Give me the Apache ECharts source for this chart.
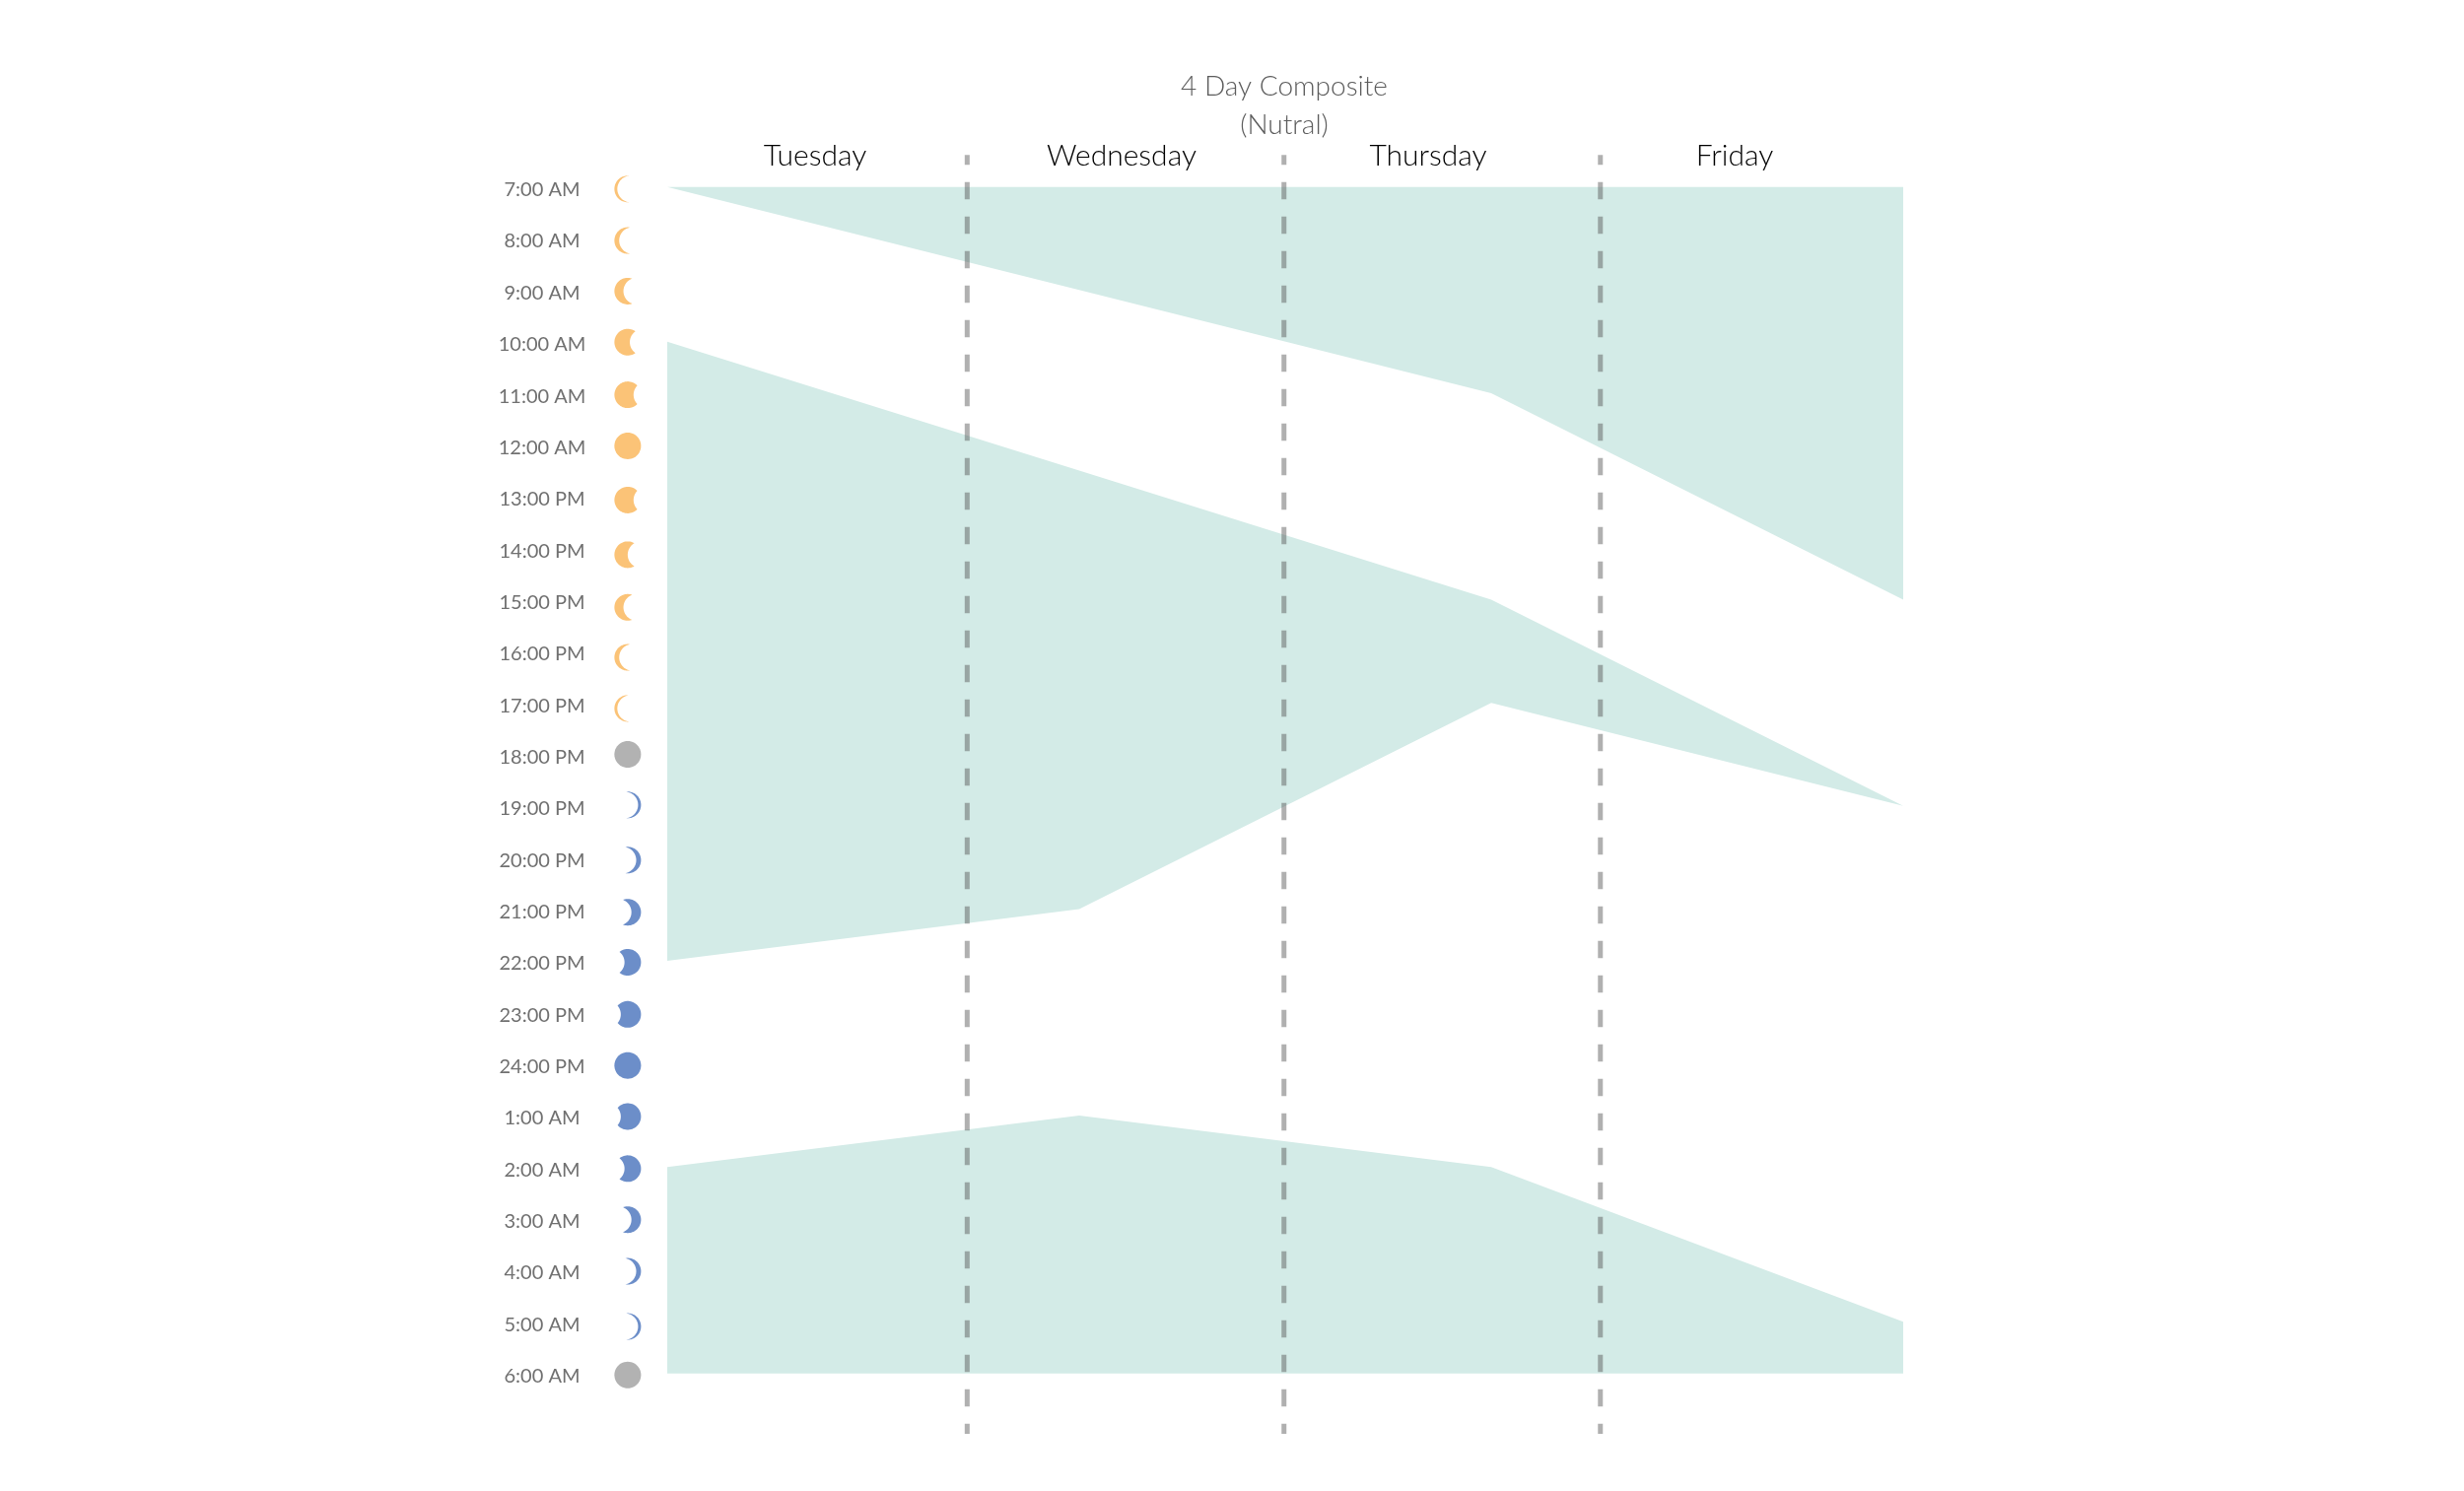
<!DOCTYPE html>
<html>
<head>
<meta charset="utf-8">
<style>html,body{margin:0;padding:0;background:#fff}#c{width:2500px;height:1513px}</style>
<script src="https://cdn.jsdelivr.net/npm/echarts@6/dist/echarts.min.js"></script>
</head>
<body>
<div id="c"></div>
<script>
const days = ['Tuesday', 'Wednesday', 'Thursday', 'Friday'];
const timeLabels = ['7:00 AM','8:00 AM','9:00 AM','10:00 AM','11:00 AM','12:00 AM','13:00 PM','14:00 PM','15:00 PM','16:00 PM','17:00 PM','18:00 PM','19:00 PM','20:00 PM','21:00 PM','22:00 PM','23:00 PM','24:00 PM','1:00 AM','2:00 AM','3:00 AM','4:00 AM','5:00 AM','6:00 AM'];
// Band edges, in rows below 7:00 AM, one value per day
const band1Top = [0, 0, 0, 0];
const band1Bottom = [0, 2, 4, 8];
const band2Top = [3, 5.5, 8, 12];
const band2Bottom = [15, 14, 10, 12];
const band3Top = [19, 18, 19, 22];
const band3Bottom = [23, 23, 23, 23];
const dividers = [0.728, 1.497, 2.265];
const dividerSpan = [-0.62, 24.17];
// Moon glyphs: row, lit fraction, kind
const moonRows = [0.04,1.04,2.02,3.01,4.03,5.02,6.07,7.13,8.15,9.12,10.11,11,11.98,13.05,14.06,15.03,16.04,17.03,18.02,19.03,20.02,21.02,22.09,23.03];
const moonPhases = [0.11,0.18,0.34,0.58,0.72,1,0.72,0.5,0.34,0.18,0.11,1,0.11,0.18,0.36,0.62,0.76,1,0.76,0.62,0.36,0.18,0.11,1];
const moonKinds = ['day','day','day','day','day','day','day','day','day','day','day','dusk','night','night','night','night','night','night','night','night','night','night','night','dusk'];
const moonColumn = -0.096;

const moonColors = { day: '#fbc377', night: '#6c8ec9', dusk: '#b2b2b2' };
const FONT = 'Lato';
const BAND = '#d3ebe7';
const GRID_LEFT = 677, GRID_W = 1254, GRID_TOP = 137.3, GRID_H = 1361.1;

function bandSeries(name, top, bottom) {
  return {
    name, type: 'custom', coordinateSystem: 'cartesian2d', xAxisIndex: 0, yAxisIndex: 0,
    silent: true, z: 1,
    data: days.map((d, i) => [i, top[i], bottom[i]]),
    encode: { x: 0, y: [1, 2] },
    renderItem(params, api) {
      if (params.dataIndex !== 0) return null;
      const upper = top.map((v, i) => api.coord([i, v]));
      const lower = bottom.map((v, i) => api.coord([i, v])).reverse();
      return { type: 'polygon', shape: { points: upper.concat(lower) }, style: { fill: BAND }, silent: true };
    }
  };
}

function moonPoints(c, r, phase, side) {
  const pts = [];
  const n = 48;
  if (phase >= 1) {
    for (let i = 0; i < n; i++) {
      const a = i / n * 2 * Math.PI;
      pts.push([c[0] + r * Math.cos(a), c[1] + r * Math.sin(a)]);
    }
    return pts;
  }
  const dx = 2 * r * phase;
  const t = Math.acos(dx / 2 / r);
  for (let i = 0; i <= n; i++) {
    const a = t + (2 * Math.PI - 2 * t) * i / n;
    pts.push([c[0] + side * r * Math.cos(a), c[1] - r * Math.sin(a)]);
  }
  for (let i = 1; i < n; i++) {
    const a = (Math.PI + t) - 2 * t * i / n;
    pts.push([c[0] + side * (dx + r * Math.cos(a)), c[1] - r * Math.sin(a)]);
  }
  return pts;
}

const dividerSeries = dividers.map((x, i) => ({
  name: 'divider' + (i + 1), type: 'line', xAxisIndex: 0, yAxisIndex: 0, silent: true, z: 3,
  showSymbol: false, symbol: 'none', animation: false,
  data: dividerSpan.map(y => [x, y]),
  lineStyle: { color: 'rgba(80,80,80,0.45)', width: 5, type: [17.5, 17.5], dashOffset: 7.5, cap: 'butt' }
}));

const moonSeries = {
  name: 'moons', type: 'custom', coordinateSystem: 'cartesian2d', xAxisIndex: 0, yAxisIndex: 0,
  silent: true, z: 2, clip: false,
  data: moonRows.map((row, i) => [moonColumn, row, moonPhases[i]]),
  renderItem(params, api) {
    const i = params.dataIndex;
    const c = api.coord([api.value(0), api.value(1)]);
    const kind = moonKinds[i];
    return {
      type: 'polygon',
      shape: { points: moonPoints(c, 13.5, api.value(2), kind === 'night' ? -1 : 1) },
      style: { fill: moonColors[kind] }
    };
  }
};

const chart = echarts.init(document.getElementById('c'), null, { renderer: 'canvas' });
chart.setOption({
  animation: false,
  backgroundColor: '#ffffff',
  title: {
    text: '4 Day Composite\n(Nutral)',
    left: 1298, top: 63, textAlign: 'center',
    textStyle: { fontFamily: FONT, fontWeight: 300, fontSize: 28, color: '#5c5c5c', lineHeight: 39 }
  },
  grid: [
    { left: GRID_LEFT, width: GRID_W, top: GRID_TOP, height: GRID_H },
    { left: 671.5, width: 1244, top: 190, height: 1203 }
  ],
  xAxis: [
    { type: 'value', gridIndex: 0, min: 0, max: 3, show: false },
    {
      type: 'category', gridIndex: 1, position: 'top', data: days,
      axisLine: { show: false }, axisTick: { show: false }, splitLine: { show: false },
      axisLabel: { margin: 17, fontFamily: FONT, fontWeight: 300, fontSize: 30, color: '#000000', interval: 0 }
    }
  ],
  yAxis: [
    {
      type: 'value', gridIndex: 0, inverse: true, min: -1, max: 25, interval: 1,
      axisLine: { show: false }, axisTick: { show: false }, splitLine: { show: false },
      axisLabel: {
        margin: 127, align: 'center', verticalAlign: 'top', lineHeight: 6,
        fontFamily: FONT, fontWeight: 400, fontSize: 20, color: '#707070',
        formatter: v => timeLabels[v] || ''
      }
    },
    { type: 'value', gridIndex: 1, min: 0, max: 1, show: false }
  ],
  series: [
    bandSeries('band1', band1Top, band1Bottom),
    bandSeries('band2', band2Top, band2Bottom),
    bandSeries('band3', band3Top, band3Bottom),
    moonSeries
  ].concat(dividerSeries)
});
</script>
</body>
</html>
